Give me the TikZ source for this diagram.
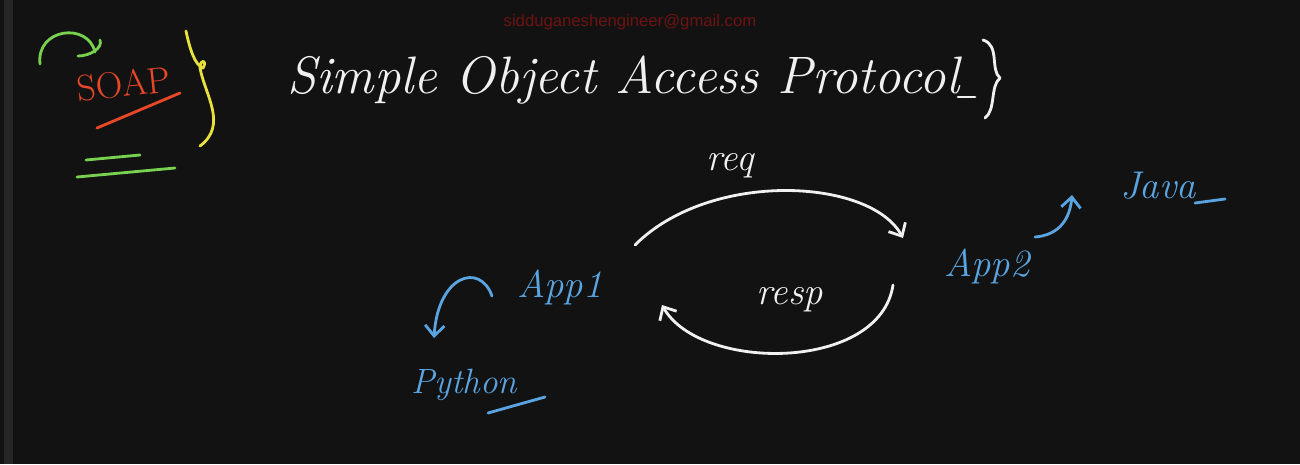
\documentclass[tikz,border=0pt]{standalone}
\usepackage{fontspec}
\usetikzlibrary{arrows.meta}
\newfontfamily\mailfont{Liberation Sans}

\begin{document}
\begin{tikzpicture}[x = 0.02cm, y = -0.02cm,
        handText/.style = {font = \itshape\fontsize{22}{26}\selectfont, inner sep = 1pt},
        inkLine/.style = {line width = 1.6pt, line cap = round, line join = round},
        flowArrow/.style = {inkLine, -{Straight Barb[length = 6pt, width = 11pt]}}]
            % \draw [help lines, step = 50] (0,0) grid (1300,464);

            \definecolor{boardColor}{RGB}{18,18,18};
            \definecolor{edgeColor}{RGB}{38,38,38};
            \definecolor{chalkColor}{RGB}{240,240,240};
            \definecolor{soapColor}{RGB}{232,72,40};
            \definecolor{markColor}{RGB}{120,210,80};
            \definecolor{braceColor}{RGB}{230,225,60};
            \definecolor{appColor}{RGB}{90,165,225};
            \definecolor{mailColor}{RGB}{110,18,18};

            \path [fill = boardColor] (0,0) rectangle (1300,464);
            \path [fill = edgeColor] (4,0) rectangle (13,464);

            \node [mailColor, font = \mailfont\fontsize{9.5}{11}\selectfont] (mail) at (630,22) {sidduganeshengineer@gmail.com};


            % heading
            \draw [inkLine, markColor] (40,64) .. controls (36,28) and (88,22) .. (95,52);
            \draw [inkLine, markColor] (78,56) .. controls (90,56) and (103,48) .. (100,40);

            \node [handText, soapColor, rotate = 6, font = \fontsize{21}{25}\selectfont] (soap) at (124,84) {SOAP};
            \draw [inkLine, soapColor] (97,128) -- (180,93);

            \draw [inkLine, markColor] (86,160) -- (140,155);
            \draw [inkLine, markColor] (77,177) -- (175,168);

            \draw [inkLine, braceColor] (186,31) .. controls (190,50) and (195,65) .. (203,68)
                .. controls (208,60) and (200,58) .. (200,68)
                .. controls (205,95) and (228,125) .. (200,146);

            \node [handText, chalkColor, anchor = west, font = \itshape\fontsize{30}{36}\selectfont] (title) at (285,80) {Simple Object Access Protocol};
            \draw [inkLine, chalkColor] (958,97) -- (975,97);
            \draw [inkLine, chalkColor] (983,40) .. controls (1000,45) and (990,70) .. (1000,78)
                .. controls (990,86) and (996,110) .. (985,118);


            % request and response
            \node [handText, chalkColor] (req) at (730,166) {req};
            \node [handText, chalkColor] (resp) at (790,300) {resp};

            \node [handText, appColor] (app1) at (560,287) {App1};
            \node [handText, appColor] (app2) at (987,266) {App2};

            \coordinate (reqFrom) at (635,245);
            \coordinate (reqTo) at (903,238);
            \draw [flowArrow, chalkColor] (reqFrom) .. controls (710,170) and (870,178) .. (reqTo);

            \coordinate (respFrom) at (893,285);
            \coordinate (respTo) at (662,305);
            \draw [flowArrow, chalkColor] (respFrom) .. controls (880,372) and (700,372) .. (respTo);


            % languages
            \node [handText, appColor, font = \itshape\fontsize{20}{24}\selectfont] (python) at (464,385) {Python};
            \draw [inkLine, appColor] (488,413) -- (545,397);

            \node [handText, appColor] (java) at (1158,186) {Java};
            \draw [inkLine, appColor] (1195,203) -- (1225,199);

            \coordinate (pyFrom) at (492,296);
            \coordinate (pyTo) at (434,338);
            \draw [flowArrow, appColor] (pyFrom) .. controls (480,262) and (438,275) .. (pyTo);

            \coordinate (javaFrom) at (1035,237);
            \coordinate (javaTo) at (1072,195);
            \draw [flowArrow, appColor] (javaFrom) .. controls (1060,235) and (1070,218) .. (javaTo);

\end{tikzpicture}
\end{document}
